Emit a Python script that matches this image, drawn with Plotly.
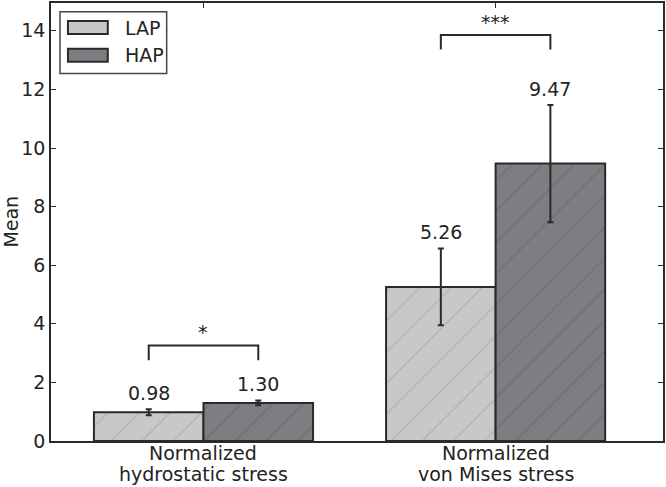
import plotly.graph_objects as go

# ---- data ----
categories = ["Normalized\nhydrostatic stress", "Normalized\nvon Mises stress"]
series_names = ["LAP", "HAP"]
lap_mean = [0.98, 5.26]
hap_mean = [1.30, 9.47]
lap_err = [0.10, 1.31]
hap_err = [0.08, 2.00]
sig_labels = ["*", "***"]
sig_level = [3.26, 13.86]
y_ticks = [0, 2, 4, 6, 8, 10, 12, 14]

# ---- styles ----
FONT = "DejaVu Sans"
TXT = "#232323"
EDGE = "#2a2a2a"
fills = ["#c8c8c9", "#7d7e81"]
hatch = ["#b2b2b3", "#6e6f72"]
BAR_W = 0.375
x_idx = list(range(len(categories)))

fig = go.Figure()
for k, (name, means, errs) in enumerate(zip(series_names, [lap_mean, hap_mean], [lap_err, hap_err])):
    fig.add_trace(go.Bar(
        x=x_idx, y=means, name=name, width=BAR_W,
        offset=-BAR_W if k == 0 else 0,
        marker=dict(color=fills[k], line=dict(color=EDGE, width=2),
                    pattern=dict(shape="/", fillmode="replace", bgcolor=fills[k],
                                 fgcolor=hatch[k], size=22, solidity=0.06)),
        error_y=dict(type="data", array=errs, visible=True, color=EDGE, thickness=2, width=3),
        showlegend=False, hoverinfo="skip",
    ))
    # value labels
    for i, (m, e) in enumerate(zip(means, errs)):
        xc = i + (-BAR_W / 2 if k == 0 else BAR_W / 2)
        fig.add_annotation(x=xc, y=m + e + 0.55, xref="x", yref="y", text=f"{m:.2f}",
                           showarrow=False, yanchor="middle",
                           font=dict(family=FONT, size=19, color=TXT))

# significance brackets
for i, (lab, lvl) in enumerate(zip(sig_labels, sig_level)):
    x0, x1 = i - BAR_W / 2, i + BAR_W / 2
    fig.add_shape(type="path", xref="x", yref="y",
                  path=f"M {x0},{lvl-0.5} L {x0},{lvl} L {x1},{lvl} L {x1},{lvl-0.5}",
                  line=dict(color=EDGE, width=2))
    fig.add_annotation(x=i, y=lvl + 0.45, xref="x", yref="y", text=lab, showarrow=False,
                       yanchor="middle", font=dict(family=FONT, size=19, color=TXT))

# category labels (two lines each)
for i, cat in enumerate(categories):
    for j, line in enumerate(cat.split("\n")):
        fig.add_annotation(x=i, y=-0.027 - 0.048 * j, xref="x", yref="paper", text=line,
                           showarrow=False, yanchor="middle",
                           font=dict(family=FONT, size=19, color=TXT))

# y-axis title
fig.add_annotation(x=-0.066, y=0.5, xref="paper", yref="paper", text="Mean", textangle=-90,
                   showarrow=False, xanchor="center", yanchor="middle",
                   font=dict(family=FONT, size=19, color=TXT))

# manual legend
fig.add_shape(type="rect", xref="paper", yref="paper", x0=0.0147, x1=0.189, y0=0.839, y1=0.98,
              line=dict(color="#444444", width=1.5), fillcolor="white")
for k, name in enumerate(series_names):
    yc = 0.944 - 0.0635 * k
    fig.add_shape(type="rect", xref="paper", yref="paper", x0=0.0277, x1=0.0928,
                  y0=yc - 0.0148, y1=yc + 0.0148,
                  line=dict(color=EDGE, width=2), fillcolor=fills[k])
    fig.add_annotation(x=0.117, y=yc, xref="paper", yref="paper", text=name, showarrow=False,
                       xanchor="left", yanchor="middle",
                       font=dict(family=FONT, size=19, color=TXT))

fig.update_layout(
    width=666, height=487,
    margin=dict(l=51, r=1, t=1, b=46),
    paper_bgcolor="white", plot_bgcolor="white",
    barmode="overlay", hovermode=False,
    font=dict(family=FONT, size=19, color=TXT),
    xaxis=dict(range=[-0.522, 1.573], tickvals=x_idx, showticklabels=False,
               ticks="inside", ticklen=5, tickcolor=EDGE, tickwidth=1,
               showline=True, linecolor=EDGE, linewidth=1.5, mirror="ticks",
               showgrid=False, zeroline=False, fixedrange=True),
    yaxis=dict(range=[0, 14.95], tickvals=y_ticks, ticks="inside", ticklen=5,
               tickcolor=EDGE, tickwidth=1, showline=True, linecolor=EDGE, linewidth=1.5,
               mirror="ticks", showgrid=False, zeroline=False, fixedrange=True,
               tickfont=dict(family=FONT, size=19, color=TXT)),
)

fig.write_html("out.html", config={"displayModeBar": False},
               post_script="document.body.style.margin='0';document.body.style.overflow='hidden';")
